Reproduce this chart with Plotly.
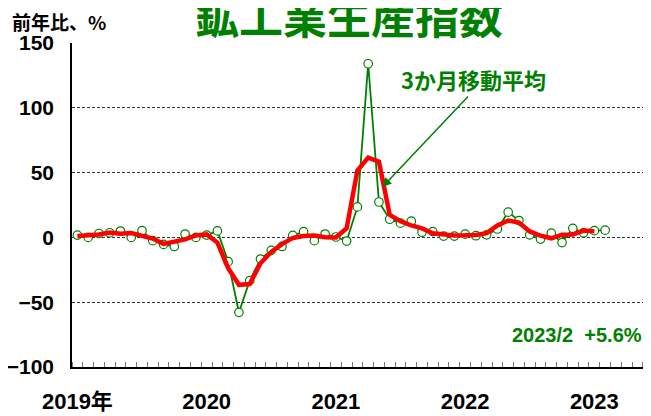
import plotly.graph_objects as go

# ---- data ----
year_labels = ["2019年", "2020", "2021", "2022", "2023"]
months = [f"{y}-{m:02d}" for y in range(2019, 2024) for m in range(1, 13)][:50]

# 鉱工業生産指数 前年比 (%)  Jan 2019 – Feb 2023
ip_yoy = [1.8, 0.0, 3.0, 3.6, 4.9, 0.0, 5.2, -2.5, -5.4, -7.0, 2.6, 0.0,
          1.8, 5.0, -18.7, -57.8, -33.4, -16.7, -10.0, -7.0, 1.5, 4.4, -2.5, 2.6,
          0.3, -2.8, 23.5, 134.0, 27.3, 14.0, 11.0, 12.5, 4.0, 4.5, 1.0, 1.0,
          2.5, 1.3, 2.0, 6.5, 19.5, 13.0, 2.0, -1.3, 3.3, -4.0, 7.0, 3.6,
          5.2, 5.6]

# 3か月移動平均 (centered)  Jan 2019 – Jan 2023
ma3 = [1.0, 1.6, 2.2, 3.8, 2.8, 3.4, 0.9, -0.9, -5.0, -3.3, -1.5, 1.5,
       2.3, -4.0, -23.8, -36.6, -36.0, -20.0, -11.2, -5.2, -0.4, 1.1, 1.5, 0.1,
       0.0, 7.0, 51.6, 61.6, 58.4, 17.4, 12.5, 9.2, 7.0, 3.2, 2.2, 1.5,
       1.6, 1.9, 3.3, 9.3, 13.0, 11.5, 4.6, 1.3, -0.7, 2.1, 2.2, 5.3,
       4.8]

y_ticks = [-100, -50, 0, 50, 100, 150]
y_ticktext = ["−100", "−50", "0", "50", "100", "150"]

GREEN = "#008000"
RED = "#ff0000"
NUM_FONT = "Liberation Sans, Arial, Noto Sans CJK JP, sans-serif"
JP_FONT = "Noto Sans CJK JP, sans-serif"

x_all = list(range(len(months)))
x_ma = x_all[:len(ma3)]
year_pos = [i for i, m in enumerate(months) if m.endswith("-01")]

# page body has an 8px margin, so the figure is sized to the visible area
W, H = 643, 408
ML, MT, MB = 64, 35, 49
PW, PH = W - ML, H - MT - MB

fig = go.Figure()
fig.add_trace(go.Scatter(
    x=x_all, y=ip_yoy, mode="lines+markers",
    line=dict(color=GREEN, width=1.8),
    marker=dict(symbol="circle", size=8.5, color="white",
                line=dict(color=GREEN, width=1.2)),
    hoverinfo="skip", showlegend=False))
fig.add_trace(go.Scatter(
    x=x_ma, y=ma3, mode="lines",
    line=dict(color=RED, width=4.5),
    hoverinfo="skip", showlegend=False))

fig.update_layout(
    width=W, height=H,
    margin=dict(l=ML, r=0, t=MT, b=MB, autoexpand=False),
    paper_bgcolor="white", plot_bgcolor="white",
    showlegend=False,
    xaxis=dict(
        range=[-0.5, 53.26], automargin=False,
        showline=True, linecolor="black", linewidth=2,
        showgrid=False, zeroline=False,
        tickmode="array", tickvals=year_pos, ticktext=year_labels,
        ticks="", ticklabelstandoff=14,
        tickfont=dict(family=NUM_FONT, size=22, color="black", weight="bold"),
        minor=dict(ticks="inside", tickmode="linear", tick0=0.5, dtick=1,
                   ticklen=5, tickwidth=1, tickcolor="#777777", showgrid=False),
    ),
    yaxis=dict(
        range=[-100, 150], automargin=False,
        showline=True, linecolor="black", linewidth=1.5,
        showgrid=True, gridcolor="#333333", gridwidth=1, griddash="3px,2px",
        zeroline=False,
        tickmode="array", tickvals=y_ticks, ticktext=y_ticktext,
        ticks="", ticklabelstandoff=12,
        tickfont=dict(family=NUM_FONT, size=21, color="black", weight="bold"),
    ),
)

# title
fig.add_annotation(text="鉱工業生産指数", xref="paper", yref="paper",
                   x=(341 - ML) / PW, y=1 + (MT - 7) / PH,
                   xanchor="center", yanchor="middle", showarrow=False,
                   font=dict(family=JP_FONT, size=44, color=GREEN, weight="bold"))
# unit label
fig.add_annotation(text="前年比、%", xref="paper", yref="paper",
                   x=(2 - ML) / PW, y=1 + (MT - 14) / PH,
                   xanchor="left", yanchor="middle", showarrow=False,
                   font=dict(family=JP_FONT, size=19, color="black", weight="bold"))
# moving average label
fig.add_annotation(text="3か月移動平均", xref="x", yref="y",
                   x=29.9, y=122, xanchor="left", yanchor="middle", showarrow=False,
                   font=dict(family=JP_FONT, size=22, color=GREEN, weight="bold"))
# arrow
fig.add_annotation(text="", xref="x", yref="y", x=28.33, y=38.9,
                   axref="x", ayref="y", ax=36.4, ay=109.9,
                   showarrow=True, arrowhead=2, arrowsize=1.2, arrowwidth=1.5,
                   arrowcolor=GREEN)
# latest value label
fig.add_annotation(text=f"{months[-1][:4]}/{int(months[-1][5:])}  +{ip_yoy[-1]:.1f}%",
                   xref="x", yref="y", x=52.65, y=-75.3,
                   xanchor="right", yanchor="middle", showarrow=False,
                   font=dict(family=NUM_FONT, size=20, color=GREEN, weight="bold"))

fig.write_html("out.html")
